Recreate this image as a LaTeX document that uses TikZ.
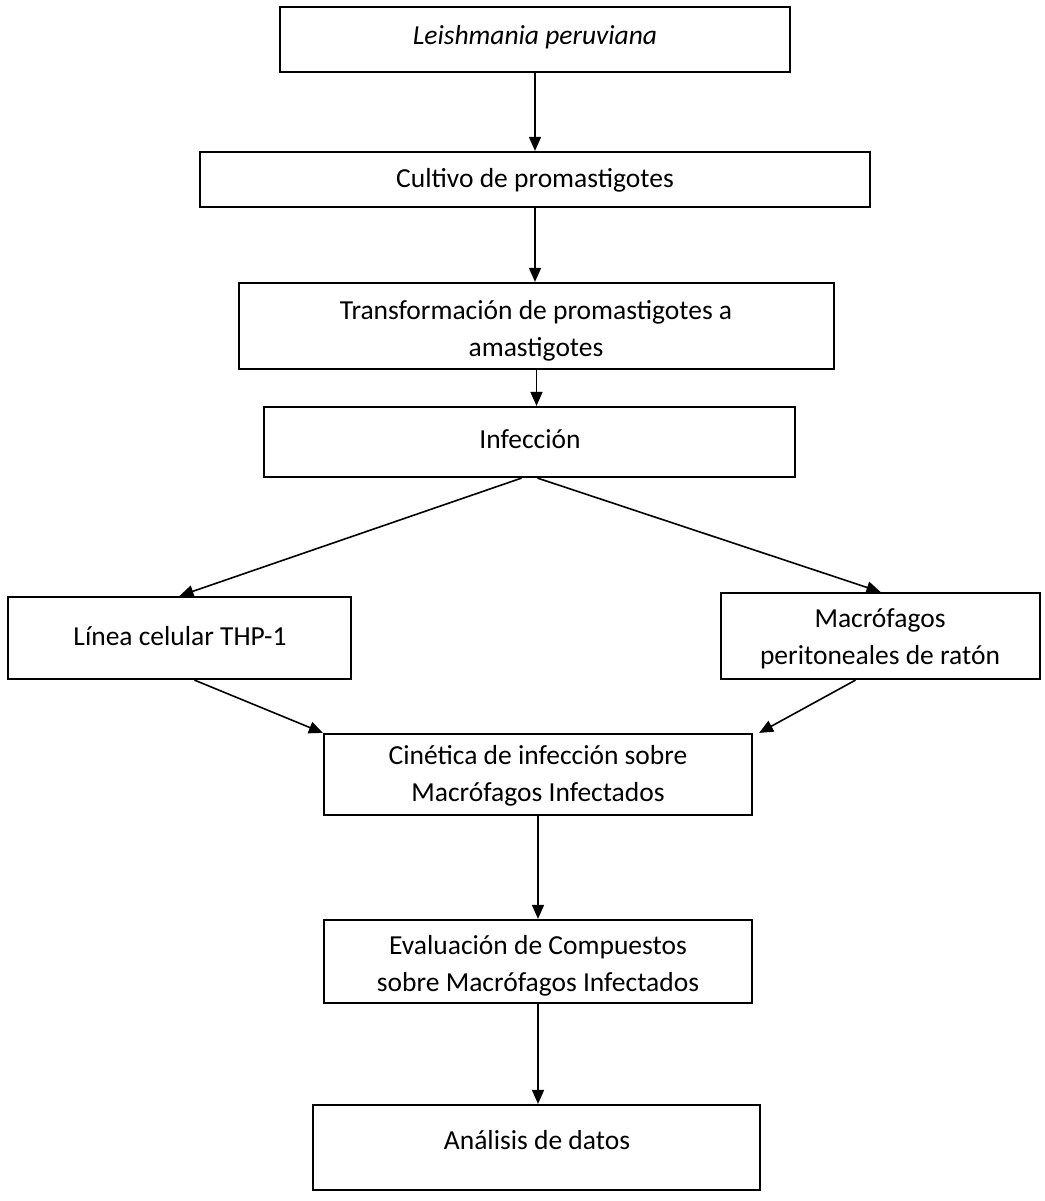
\documentclass[tikz,border=0pt]{standalone}
\usepackage{fontspec}
\setmainfont{Carlito}
\usetikzlibrary{arrows.meta,calc}
\begin{document}
\begin{tikzpicture}[x=1pt,y=-1pt,
  box/.style={draw=black, line width=2.2pt, inner sep=0pt},
  lbl/.style={font=\fontsize{27.5}{37}\selectfont, align=center, inner sep=0pt},
  arr/.style={-{Triangle[length=14pt,width=12pt]}, line width=1.6pt}]
\useasboundingbox[fill=white] (0,0) rectangle (1044,1201);
% boxes
\node[box, minimum width=510pt, minimum height=65pt] (b1) at (535,39.5) {};
\node[box, minimum width=670pt, minimum height=55pt] (b2) at (535,179.5) {};
\node[box, minimum width=595pt, minimum height=86pt] (b3) at (536.5,326) {};
\node[box, minimum width=531pt, minimum height=70pt] (b4) at (529.5,442) {};
\node[box, minimum width=343pt, minimum height=82pt] (b5) at (179.5,638) {};
\node[box, minimum width=319pt, minimum height=86pt] (b6) at (880.5,636) {};
\node[box, minimum width=428pt, minimum height=81pt] (b7) at (538,774.5) {};
\node[box, minimum width=428pt, minimum height=83pt] (b8) at (538,961.5) {};
\node[box, minimum width=447pt, minimum height=85pt] (b9) at (536.5,1147.5) {};
% texts
\node[lbl] (t1) at (535,37) {\itshape Leishmania peruviana};
\node[lbl] (t2) at (535,180) {Cultivo de promastigotes};
\node[lbl] (t3) at (536,331) {Transformación de promastigotes a\\amastigotes};
\node[lbl] (t4) at (530,439) {Infección};
\node[lbl] (t5) at (180,636) {Línea celular THP-1};
\node[lbl] (t6) at (880,639) {Macrófagos\\peritoneales de ratón};
\node[lbl] (t7) at (538,776) {Cinética de infección sobre\\Macrófagos Infectados};
\node[lbl] (t8) at (538,966) {Evaluación de Compuestos\\sobre Macrófagos Infectados};
\node[lbl] (t9) at (537,1140) {Análisis de datos};
% connectors
\draw[arr] (b1.south) -- (b2.north);
\draw[arr] (b2.south) -- (b2.south |- b3.north);
\draw[arr] (b3.south) -- (b3.south |- b4.north);
\draw[arr] ($(b4.south)+(-8,0)$) -- (b5.north);
\draw[arr] ($(b4.south)+(8,0)$) -- (b6.north);
\draw[arr] ($(b5.south)+(15,0)$) -- (b7.north west);
\draw[arr] ($(b6.south)+(-25,0)$) -- ($(b7.north east)+(6,0)$);
\draw[arr] (b7.south) -- (b8.north);
\draw[arr] (b8.south) -- (b8.south |- b9.north);
\end{tikzpicture}
\end{document}
